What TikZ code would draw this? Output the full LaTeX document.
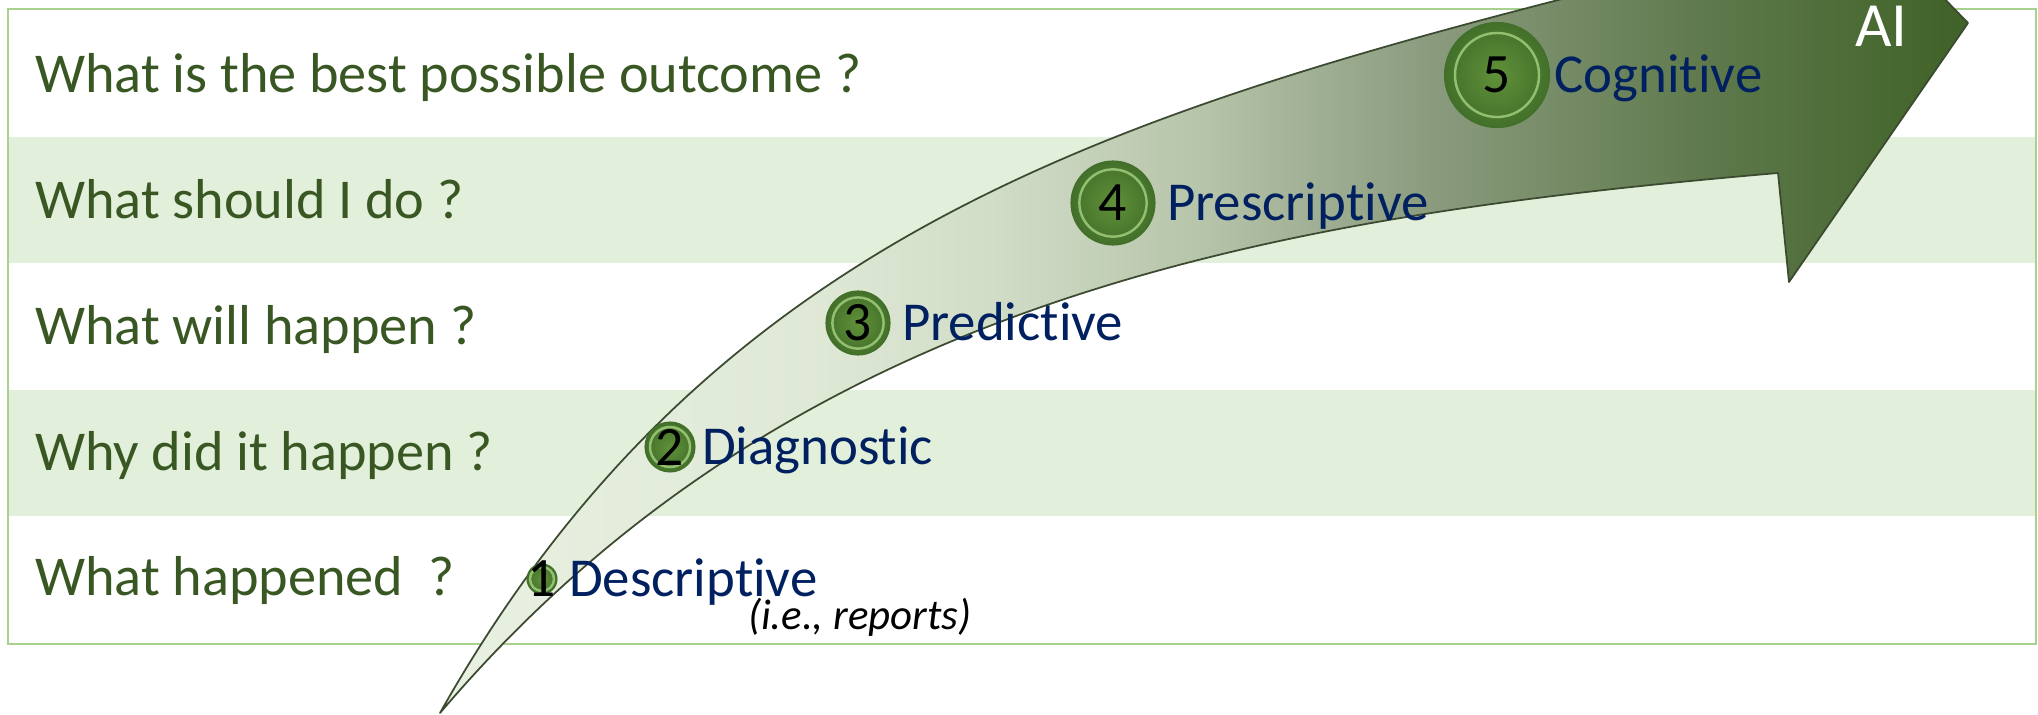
\documentclass[tikz,border=0pt]{standalone}
\usepackage{fontspec}
\setmainfont{Carlito}[Ligatures={NoCommon,NoContextual,NoRequired}, Contextuals=NoAlternate]
\usepackage{tikz}
\usetikzlibrary{positioning, calc, shapes.geometric}

\definecolor{bandgreen}{HTML}{E2EFDA}
\definecolor{framegreen}{HTML}{A9D18E}
\definecolor{questiongreen}{HTML}{385723}
\definecolor{stageblue}{HTML}{002060}
\definecolor{ballouter}{HTML}{42702A}
\definecolor{ballinner}{HTML}{609139}
\definecolor{ballring}{HTML}{93C070}
\definecolor{arrowline}{HTML}{3B4A30}
\definecolor{arrowpale}{HTML}{E9F1E2}
\definecolor{arrowlight}{HTML}{DFE9D6}
\definecolor{arrowmidA}{HTML}{D2DDC8}
\definecolor{arrowmidB}{HTML}{B6C4A9}
\definecolor{arrowmidC}{HTML}{8C9D80}
\definecolor{arrowdarkA}{HTML}{5C7749}
\definecolor{arrowdarkB}{HTML}{3F6227}

% light tail -> dark head
\pgfdeclarehorizontalshading{arrowshade}{100bp}{color(0bp)=(arrowpale); color(25bp)=(arrowpale); color(37bp)=(arrowlight); color(43bp)=(arrowmidA); color(50bp)=(arrowmidB); color(57bp)=(arrowmidC); color(67bp)=(arrowdarkA); color(75bp)=(arrowdarkB); color(100bp)=(arrowdarkB)}

\begin{document}
\begin{tikzpicture}[
    x=0.01cm, y=-0.01cm,
    every node/.style={inner sep=0pt, outer sep=0pt},
    band/.style={fill=bandgreen, draw=none},
    frame/.style={draw=framegreen, line width=0.6pt},
    question/.style={anchor=base west, text=questiongreen, font=\fontsize{16}{19}\selectfont},
    ball/.style={circle, draw=ballouter, line width=0.3pt, inner color=ballinner, outer color=ballouter,
        path picture={\draw[ballring, line width=0.7pt] let \p1=(path picture bounding box.north), \p2=(path picture bounding box.center) in (\p2) circle[radius={0.8*(\y1-\y2)}];}},
    digit/.style={text=black, font=\fontsize{15.8}{19}\selectfont},
    stage/.style={text=stageblue, font=\fontsize{15.6}{19}\selectfont, text height=13.3pt, text depth=3.1pt},
    note/.style={anchor=base west, text=black, font=\fontsize{12.2}{15}\selectfont\itshape},
    ailabel/.style={anchor=base west, text=white, font=\fontsize{17.9}{21}\selectfont},
    arrow/.style={draw=arrowline, line width=0.5pt, line join=round, shade, shading=arrowshade}
]
\useasboundingbox (0,0) rectangle (2038,715);
\clip (0,0) rectangle (2038,715);

% rows
\fill[band] (8,137) rectangle (2036,263);
\fill[band] (8,390) rectangle (2036,516);
\draw[frame] (8,9) rectangle (2036,644);

\node[question] (q5) at (35,93) {What is the best possible outcome ?};
\node[question] (q4) at (35,218) {What should I do ?};
\node[question] (q3) at (35,344) {What will happen ?};
\node[question] (q2) at (35,470) {Why did it happen ?};
\node[question] (q1) at (35,595) {What happened\ \ ?};

% curved arrow
\draw[arrow] (440,713) .. controls (734,191) and (1185,93) .. (1785,-57) -- (1790,-160) -- (1968,23) -- (1789,282) -- (1778,173) .. controls (1280,216) and (796,294) .. cycle;

\node[ailabel] (ai) at (1855,47) {AI};

% stages
\node[ball, minimum size=0.30cm, label={[digit]center:1}] (b1) at (542,579) {};
\node[stage, right=0.12cm of b1] (descriptive) {Descriptive};
\node[note] (reports) at (748,629) {(i.e., reports)};

\node[ball, minimum size=0.50cm, label={[digit]center:2}] (b2) at (670,447) {};
\node[stage, right=0.07cm of b2] (diagnostic) {Diagnostic};

\node[ball, minimum size=0.64cm, label={[digit]center:3}] (b3) at (858,323) {};
\node[stage, right=0.12cm of b3] (predictive) {Predictive};

\node[ball, minimum size=0.84cm, label={[digit]center:4}] (b4) at (1113,203) {};
\node[stage, right=0.12cm of b4] (prescriptive) {Prescriptive};

\node[ball, minimum size=1.05cm, label={[digit]center:5}] (b5) at (1497,75) {};
\node[stage, right=0.05cm of b5] (cognitive) {Cognitive};
\end{tikzpicture}
\end{document}
